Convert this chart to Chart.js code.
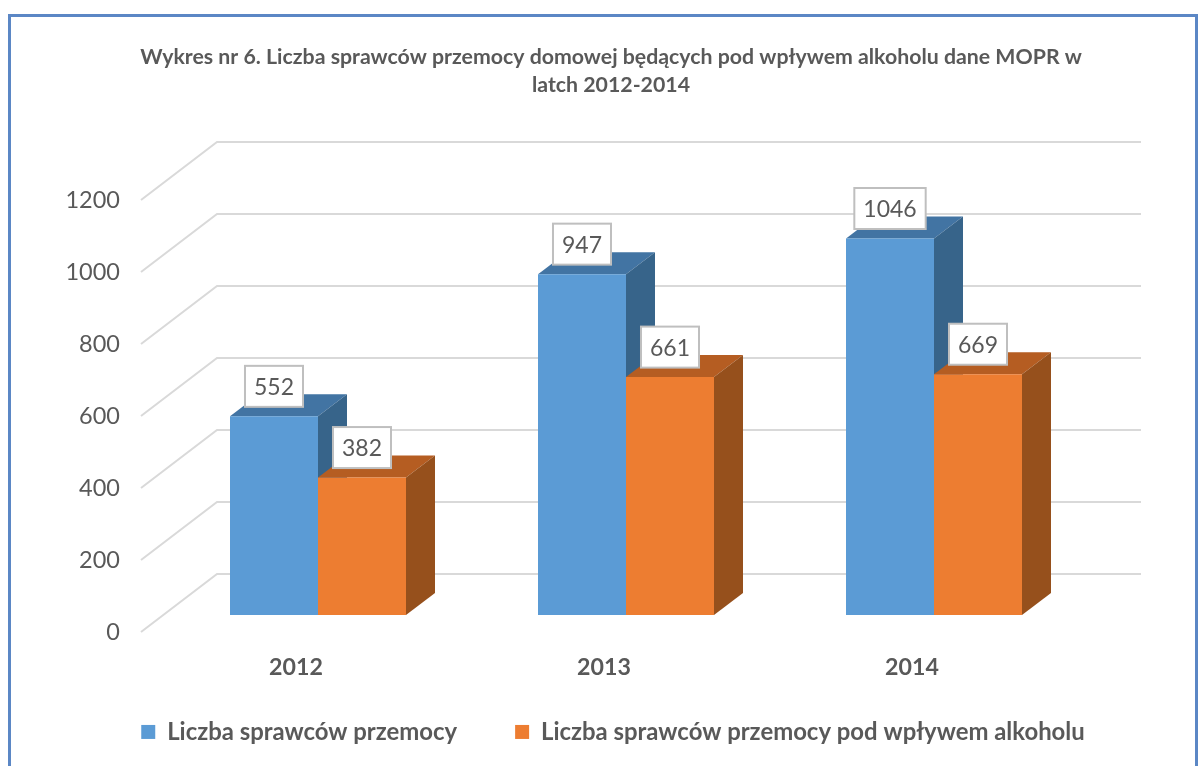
<!DOCTYPE html>
<html>
<head>
<meta charset="utf-8">
<title>Wykres nr 6</title>
<script src="https://cdn.jsdelivr.net/npm/chart.js@4"></script>
<style>
    html, body { margin: 0; padding: 0; background: #fff; }
    #wrap { position: relative; width: 1202px; height: 766px; overflow: hidden; }
    #frame { position: absolute; left: 8px; top: 14px; width: 1184px; height: 760px; border: 3px solid #5b87c5; box-sizing: content-box; }
    canvas { position: absolute; left: 0; top: 0; }
</style>
</head>
<body>
<div id="wrap">
    <div id="frame"></div>
    <canvas id="chart" width="1202" height="766"></canvas>
</div>
<script>
var titleLines = ['Wykres nr 6. Liczba sprawców przemocy domowej będących pod wpływem alkoholu dane MOPR w', 'latch 2012-2014'];
var years = ['2012', '2013', '2014'];
var przemocy = [552, 947, 1046];
var alkohol = [382, 661, 669];
var yTicks = [0, 200, 400, 600, 800, 1000, 1200];
var seriesNames = ['Liczba sprawców przemocy', 'Liczba sprawców przemocy pod wpływem alkoholu'];

var textColor = '#595959';
var fontName = 'Lato, "Open Sans", sans-serif';

// Excel style 3D look: depth faces, back wall grid and boxed value labels
var depthX = 29, depthY = 22, floorX = 76, floorY = 58, wallLeft = 141, wallRight = 1141;
var faces = [
    { top: '#4274a3', side: '#37648a' },
    { top: '#b55d22', side: '#96501c' }
];

var wallPlugin = {
    id: 'wall',
    // the wide legend padding would also eat vertical room, so keep the box short
    beforeLayout: function (chart) {
        var legend = chart.legend;
        if (legend.shortFit) return;
        var fit = legend.fit;
        legend.fit = function () {
            fit.call(this);
            this.height = 84;
        };
        legend.shortFit = true;
    },
    afterLayout: function (chart) {
        chart.legend.top -= 20;
        chart.legend.bottom -= 20;
        chart.legend.left += 2;
        chart.legend.right += 2;
    },
    beforeDatasetsDraw: function (chart) {
        var ctx = chart.ctx, y = chart.scales.y;
        ctx.save();
        ctx.strokeStyle = '#d9d9d9';
        ctx.lineWidth = 2;
        yTicks.forEach(function (v) {
            var py = y.getPixelForValue(v);
            ctx.beginPath();
            ctx.moveTo(wallLeft, py);
            ctx.lineTo(wallLeft + floorX, py - floorY);
            ctx.lineTo(wallRight, py - floorY);
            ctx.stroke();
        });
        [0, 1].forEach(function (d) {
            chart.getDatasetMeta(d).data.forEach(function (bar) {
                var l = bar.x - bar.width / 2, r = bar.x + bar.width / 2;
                ctx.fillStyle = faces[d].top;
                ctx.beginPath();
                ctx.moveTo(l, bar.y);
                ctx.lineTo(l + depthX, bar.y - depthY);
                ctx.lineTo(r + depthX, bar.y - depthY);
                ctx.lineTo(r, bar.y);
                ctx.fill();
                ctx.fillStyle = faces[d].side;
                ctx.beginPath();
                ctx.moveTo(r, bar.y);
                ctx.lineTo(r + depthX, bar.y - depthY);
                ctx.lineTo(r + depthX, bar.base - depthY);
                ctx.lineTo(r, bar.base);
                ctx.fill();
            });
        });
        ctx.restore();
    },
    afterDatasetsDraw: function (chart) {
        var ctx = chart.ctx;
        ctx.save();
        ctx.font = '23px ' + fontName;
        ctx.textAlign = 'center';
        ctx.textBaseline = 'middle';
        [0, 1].forEach(function (d) {
            var values = chart.data.datasets[d].data;
            chart.getDatasetMeta(d).data.forEach(function (bar, i) {
                var text = String(values[i]);
                var w = ctx.measureText(text).width + 18, h = 41, cy = bar.y - 30;
                ctx.fillStyle = '#fff';
                ctx.fillRect(bar.x - w / 2, cy - h / 2, w, h);
                ctx.strokeStyle = '#bfbfbf';
                ctx.lineWidth = 2;
                ctx.strokeRect(bar.x - w / 2, cy - h / 2, w, h);
                ctx.fillStyle = textColor;
                ctx.fillText(text, bar.x, cy + 1);
            });
        });
        ctx.restore();
    }
};

new Chart(document.getElementById('chart'), {
    type: 'bar',
    data: {
        labels: years,
        datasets: [
            { label: seriesNames[0], data: przemocy, backgroundColor: '#5b9bd5', yAxisID: 'bars' },
            { label: seriesNames[1], data: alkohol, backgroundColor: '#ed7d31', yAxisID: 'bars' }
        ]
    },
    options: {
        responsive: false,
        animation: false,
        layout: { padding: { left: 57, right: 37, top: 0, bottom: 0 } },
        datasets: { bar: { categoryPercentage: 176 / 308, barPercentage: 1 } },
        plugins: {
            title: {
                display: true,
                text: titleLines,
                color: textColor,
                font: { family: fontName, size: 21.3, weight: 'bold', lineHeight: 1.315 },
                padding: { top: 43, bottom: 43 }
            },
            legend: {
                position: 'bottom',
                labels: {
                    color: textColor,
                    font: { family: fontName, size: 23.9, weight: 'bold' },
                    boxWidth: 14,
                    boxHeight: 14,
                    padding: 58
                }
            },
            tooltip: { enabled: false }
        },
        scales: {
            x: {
                grid: { display: false, drawTicks: false },
                border: { display: false },
                afterFit: function (axis) { axis.height = 50; },
                ticks: {
                    color: textColor,
                    font: { family: fontName, size: 23.2, weight: 'bold' },
                    padding: 22,
                    labelOffset: -22,
                    maxRotation: 0
                }
            },
            // axis of the tick labels, its zero sits on the front edge of the floor
            y: {
                min: 0,
                max: 1361,
                grid: { display: false, drawTicks: false },
                border: { display: false },
                afterBuildTicks: function (axis) {
                    axis.ticks = yTicks.map(function (v) { return { value: v }; });
                },
                afterFit: function (axis) { axis.width = 107; },
                ticks: {
                    color: textColor,
                    font: { family: fontName, size: 23.5 },
                    padding: 44,
                    callback: function (v) { return String(v); }
                }
            },
            // axis of the bars, same scale but its zero is on the bar plane
            bars: {
                position: 'right',
                min: -47,
                max: 1314,
                grid: { display: false },
                border: { display: false },
                ticks: { display: false },
                afterFit: function (axis) { axis.width = 77; }
            }
        }
    },
    plugins: [wallPlugin]
});
</script>
</body>
</html>
